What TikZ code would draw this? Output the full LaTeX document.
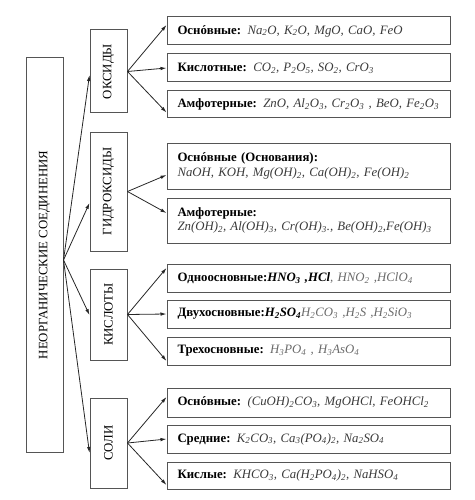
\documentclass[tikz,border=0pt]{standalone}
\usepackage{fontspec}
\setmainfont{Liberation Serif}
\usepackage{graphicx}
\usetikzlibrary{arrows.meta,calc}
\newcommand{\sub}[1]{\textsubscript{#1}}
\newcommand{\ind}{\hspace*{7pt}}
\definecolor{boxline}{HTML}{555555}
\definecolor{formula}{HTML}{3A3A3A}
\definecolor{acidf}{HTML}{6A6A6A}
\tikzset{
  box/.style={draw=boxline, line width=1pt, inner sep=0pt},
  vbox/.style={box, minimum width=37pt, font=\fontsize{12.8}{14}\selectfont},
  rbox/.style={box, minimum width=283pt, text width=276pt, align=left, inner xsep=3.5pt, font=\fontsize{12.8}{14.5}\selectfont},
  arr/.style={draw=black!85, line width=0.8pt, -{Latex[length=6pt,width=3.5pt]}},
}
\newcommand{\lab}[1]{\textbf{#1}}
\newcommand{\frm}[1]{{\itshape\color{formula}#1}}
\newcommand{\afrm}[1]{{\itshape\color{acidf}#1}}
\begin{document}
\begin{tikzpicture}[x=1pt,y=-1pt]
\useasboundingbox (0,0) rectangle (474,500);
% main
\node[box, minimum width=37pt, minimum height=394pt, font=\fontsize{12.8}{14}\selectfont] (main) at (44.5,255) {\rotatebox{90}{НЕОРГАНИЧЕСКИЕ СОЕДИНЕНИЯ}};
% categories
\node[vbox, minimum height=83pt] (ox) at (108.5,71.5) {\rotatebox{90}{ОКСИДЫ}};
\node[vbox, minimum height=119pt] (gx) at (108.5,191.5) {\rotatebox{90}{ГИДРОКСИДЫ}};
\node[vbox, minimum height=91pt] (kx) at (108.5,314.5) {\rotatebox{90}{КИСЛОТЫ}};
\node[vbox, minimum height=90pt] (sx) at (108.5,443) {\rotatebox{90}{СОЛИ}};
% right boxes
\node[rbox, minimum height=28pt] (o1) at (308.5,31) {\ind\lab{Оснóвные:} \frm{Na\sub{2}O, K\sub{2}O, MgO, CaO, FeO}};
\node[rbox, minimum height=28pt] (o2) at (308.5,68) {\ind\lab{Кислотные:} \frm{CO\sub{2}, P\sub{2}O\sub{5}, SO\sub{2}, CrO\sub{3}}};
\node[rbox, minimum height=27pt] (o3) at (308.5,104.5) {\ind\lab{Амфотерные:} \frm{ZnO, Al\sub{2}O\sub{3}, Cr\sub{2}O\sub{3} , BeO, Fe\sub{2}O\sub{3}}};
\node[rbox, minimum height=46pt] (g1) at (308.5,166) {\ind\lab{Оснóвные (Основания):}\\ \ind\frm{NaOH, KOH, Mg(OH)\sub{2}, Ca(OH)\sub{2}, Fe(OH)\sub{2}}};
\node[rbox, minimum height=45pt] (g2) at (308.5,220.5) {\ind\lab{Амфотерные:}\\ \ind\frm{Zn(OH)\sub{2}, Al(OH)\sub{3}, Cr(OH)\sub{3}., Be(OH)\sub{2},Fe(OH)\sub{3}}};
\node[rbox, minimum height=28pt] (k1) at (308.5,278) {\ind\lab{Одноосновные:\textit{HNO\sub{3} ,HCl}}\afrm{, HNO\sub{2} ,HClO\sub{4}}};
\node[rbox, minimum height=28pt] (k2) at (308.5,314) {\ind\lab{Двухосновные:\textit{H\sub{2}SO\sub{4}}}\afrm{H\sub{2}CO\sub{3} ,H\sub{2}S ,H\sub{2}SiO\sub{3}}};
\node[rbox, minimum height=28pt] (k3) at (308.5,351) {\ind\lab{Трехосновные:} \afrm{H\sub{3}PO\sub{4} , H\sub{3}AsO\sub{4}}};
\node[rbox, minimum height=29pt] (s1) at (308.5,402.5) {\ind\lab{Оснóвные:} \frm{(CuOH)\sub{2}CO\sub{3}, MgOHCl, FeOHCl\sub{2}}};
\node[rbox, minimum height=28pt] (s2) at (308.5,439) {\ind\lab{Средние:} \frm{K\sub{2}CO\sub{3}, Ca\sub{3}(PO\sub{4})\sub{2}, Na\sub{2}SO\sub{4}}};
\node[rbox, minimum height=27pt] (s3) at (308.5,475.5) {\ind\lab{Кислые:} \frm{KHCO\sub{3}, Ca(H\sub{2}PO\sub{4})\sub{2}, NaHSO\sub{4}}};
% main arrows
\coordinate (m) at ($(main.east)+(0,5)$);
\draw[arr] (m) -- ($(ox.west)+(0,3.5)$);
\draw[arr] (m) -- ($(gx.west)+(0,11.5)$);
\draw[arr] (m) -- ($(kx.west)+(0,0.5)$);
\draw[arr] (m) -- ($(sx.west)+(0,10)$);
% fans
\draw[arr] (ox.east) -- ($(o1.west)+(0,-6)$);
\draw[arr] (ox.east) -- (o2.west);
\draw[arr] (ox.east) -- ($(o3.west)+(0,8)$);
\draw[arr] (gx.east) -- ($(g1.west)+(0,9)$);
\draw[arr] (gx.east) -- ($(g2.west)+(0,-7.5)$);
\draw[arr] (kx.east) -- ($(k1.west)+(0,-10)$);
\draw[arr] (kx.east) -- (k2.west);
\draw[arr] (kx.east) -- ($(k3.west)+(0,10)$);
\draw[arr] (sx.east) -- ($(s1.west)+(0,-5.5)$);
\draw[arr] (sx.east) -- (s2.west);
\draw[arr] (sx.east) -- ($(s3.west)+(0,9.5)$);
\end{tikzpicture}
\end{document}
